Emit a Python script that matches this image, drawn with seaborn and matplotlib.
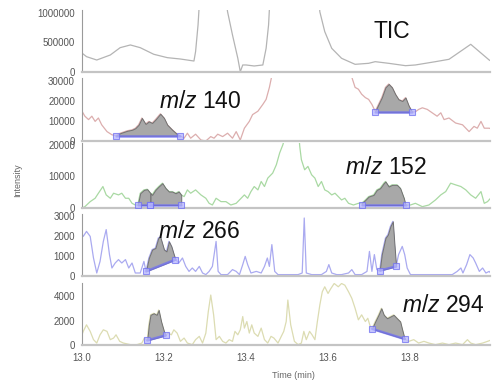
import numpy as np
import matplotlib
matplotlib.use("Agg")
import matplotlib.pyplot as plt
import seaborn as sns
from matplotlib.ticker import AutoMinorLocator, MultipleLocator, StrMethodFormatter

# --- data (time in min, intensity in counts) ---
tic_t = [13.000, 13.011, 13.036, 13.069, 13.093, 13.118, 13.142, 13.175, 13.208, 13.240,
         13.273, 13.277, 13.283, 13.290, 13.322, 13.348, 13.355, 13.367, 13.380, 13.386,
         13.392, 13.400, 13.420, 13.441, 13.449, 13.455, 13.461, 13.519, 13.574, 13.580,
         13.592, 13.609, 13.633, 13.666, 13.699, 13.715, 13.748, 13.789, 13.813, 13.862,
         13.895, 13.928, 13.948, 13.969, 13.993, 14.000]
tic_y = [320000, 260000, 203000, 288000, 412000, 458000, 412000, 300000, 243000, 220000,
         186000, 345000, 797000, 1600000, 3000000, 1400000, 1020000, 627000, 232000, 5000,
         119000, 119000, 102000, 119000, 401000, 797000, 1600000, 3000000, 1600000, 1020000,
         684000, 401000, 232000, 130000, 147000, 175000, 147000, 107000, 119000, 175000,
         215000, 373000, 469000, 345000, 203000, 175000]

mz140_t = [13.000, 13.007, 13.016, 13.024, 13.032, 13.040, 13.048, 13.061, 13.073, 13.083,
           13.093, 13.110, 13.122, 13.130, 13.138, 13.146, 13.155, 13.163, 13.171, 13.179,
           13.191, 13.200, 13.208, 13.220, 13.232, 13.240, 13.249, 13.257, 13.265, 13.277,
           13.290, 13.302, 13.314, 13.322, 13.331, 13.343, 13.355, 13.367, 13.376, 13.386,
           13.396, 13.408, 13.416, 13.429, 13.441, 13.449, 13.457, 13.463, 13.486, 13.654,
           13.658, 13.666, 13.674, 13.682, 13.691, 13.699, 13.707, 13.715, 13.723, 13.731,
           13.740, 13.748, 13.756, 13.764, 13.772, 13.781, 13.789, 13.797, 13.805, 13.813,
           13.821, 13.830, 13.842, 13.854, 13.866, 13.875, 13.883, 13.895, 13.911, 13.928,
           13.944, 13.956, 13.964, 13.973, 13.981, 13.993, 14.000]
mz140_y = [14900, 12400, 10700, 12400, 9800, 11500, 8100, 4700, 3100, 2700,
           3900, 5100, 5600, 6400, 8100, 11500, 8500, 9800, 9000, 10700,
           13600, 11500, 8100, 5600, 3400, 2500, 1400, 3900, 1400, 3400,
           500, 0, 2200, 1400, 3400, 2200, 3900, 1400, 4700, 500,
           6400, 9800, 13200, 14900, 18300, 20800, 26800, 32700, 45000, 45000,
           31900, 26800, 25900, 23400, 21700, 20800, 18300, 14900, 18300, 21700,
           26800, 28500, 26800, 23400, 20800, 20000, 21700, 17500, 14600, 14600,
           15800, 16600, 15800, 14100, 12400, 14100, 10700, 11500, 9000, 8100,
           4700, 7300, 6400, 9800, 6400, 6400, 5900]

mz152_t = [13.000, 13.007, 13.020, 13.032, 13.040, 13.051, 13.059, 13.069, 13.077, 13.089,
           13.097, 13.106, 13.114, 13.122, 13.130, 13.136, 13.142, 13.151, 13.159, 13.167,
           13.171, 13.179, 13.187, 13.196, 13.204, 13.212, 13.220, 13.228, 13.236, 13.242,
           13.249, 13.257, 13.265, 13.277, 13.290, 13.302, 13.310, 13.318, 13.327, 13.339,
           13.351, 13.363, 13.376, 13.388, 13.396, 13.404, 13.412, 13.420, 13.429, 13.437,
           13.445, 13.453, 13.465, 13.474, 13.482, 13.490, 13.502, 13.527, 13.531, 13.535,
           13.543, 13.551, 13.560, 13.568, 13.576, 13.584, 13.592, 13.600, 13.609, 13.617,
           13.625, 13.633, 13.641, 13.650, 13.662, 13.674, 13.682, 13.691, 13.699, 13.711,
           13.719, 13.727, 13.736, 13.740, 13.748, 13.756, 13.768, 13.776, 13.785, 13.789,
           13.801, 13.813, 13.830, 13.846, 13.862, 13.875, 13.887, 13.899, 13.911, 13.924,
           13.936, 13.948, 13.960, 13.973, 13.981, 13.989, 14.000]
mz152_y = [0, 420, 2010, 3070, 4660, 6770, 4130, 3070, 4660, 4130,
           4660, 3070, 3070, 1480, 950, 950, 4660, 5710, 5920, 4660,
           4130, 5710, 6770, 7830, 6240, 5180, 5180, 4660, 5180, 4130,
           3600, 5710, 4660, 5710, 4130, 3070, 1480, 950, 3070, 2010,
           2010, 950, 1480, 3070, 4130, 3070, 5180, 6770, 5710, 8360,
           6770, 9420, 11000, 13650, 17350, 20000, 26000, 26000, 19470, 15240,
           12060, 13120, 10470, 9420, 6770, 8360, 5710, 5180, 4130, 4660,
           3600, 2540, 3070, 1480, 950, 1480, 1480, 2540, 3600, 4130,
           5710, 6240, 7830, 8360, 6770, 7300, 7300, 6240, 3070, 950,
           950, 1480, 420, 950, 2540, 4130, 5180, 7830, 7300, 6770,
           5710, 4130, 3070, 5180, 1480, 2010, 3600]

mz266_t = [13.000, 13.003, 13.011, 13.020, 13.028, 13.036, 13.044, 13.052, 13.059, 13.067,
           13.073, 13.081, 13.089, 13.097, 13.106, 13.114, 13.122, 13.130, 13.142, 13.151,
           13.156, 13.163, 13.171, 13.179, 13.186, 13.191, 13.200, 13.206, 13.212, 13.218,
           13.224, 13.228, 13.236, 13.245, 13.253, 13.261, 13.269, 13.277, 13.286, 13.294,
           13.302, 13.310, 13.318, 13.327, 13.332, 13.339, 13.355, 13.367, 13.376, 13.384,
           13.392, 13.398, 13.404, 13.412, 13.425, 13.437, 13.445, 13.452, 13.457, 13.463,
           13.470, 13.478, 13.494, 13.511, 13.527, 13.537, 13.542, 13.547, 13.560, 13.584,
           13.596, 13.602, 13.609, 13.621, 13.633, 13.650, 13.658, 13.666, 13.682, 13.695,
           13.701, 13.707, 13.713, 13.719, 13.726, 13.731, 13.740, 13.746, 13.752, 13.758,
           13.762, 13.766, 13.772, 13.781, 13.787, 13.793, 13.801, 13.813, 13.838, 13.862,
           13.887, 13.903, 13.915, 13.924, 13.929, 13.938, 13.946, 13.954, 13.960, 13.969,
           13.977, 13.985, 13.993, 14.000]
mz266_y = [2070, 1980, 2230, 1980, 900, 150, 730, 1730, 2320, 1070,
           400, 650, 820, 650, 820, 400, 650, 150, 150, 730,
           230, 900, 1320, 1400, 1900, 1950, 1320, 1230, 1730, 1480,
           1070, 820, 650, 900, 480, 230, 400, 230, 480, 150,
           70, 230, 480, 1730, 230, 70, 70, 320, 230, 70,
           570, 980, 570, 150, 230, 150, 480, 900, 480, 1570,
           230, 70, 70, 70, 70, 150, 2900, 150, 70, 70,
           230, 570, 150, 70, 70, 150, 320, 70, 70, 230,
           1230, 230, 1070, 320, 270, 1070, 1900, 2070, 2480, 2730,
           1570, 480, 1070, 1480, 1070, 400, 70, 70, 70, 70,
           70, 70, 230, 400, 150, 570, 1070, 900, 650, 230,
           400, 150, 230, 70]

mz294_t = [13.000, 13.003, 13.011, 13.020, 13.028, 13.036, 13.044, 13.052, 13.061, 13.069,
           13.077, 13.083, 13.092, 13.101, 13.118, 13.134, 13.146, 13.152, 13.159, 13.163,
           13.167, 13.175, 13.182, 13.187, 13.193, 13.200, 13.204, 13.210, 13.218, 13.224,
           13.232, 13.240, 13.249, 13.257, 13.269, 13.277, 13.286, 13.294, 13.302, 13.308,
           13.314, 13.321, 13.327, 13.335, 13.343, 13.351, 13.359, 13.367, 13.373, 13.380,
           13.386, 13.392, 13.396, 13.402, 13.408, 13.414, 13.420, 13.429, 13.437, 13.445,
           13.453, 13.461, 13.468, 13.478, 13.486, 13.492, 13.498, 13.502, 13.509, 13.518,
           13.527, 13.535, 13.541, 13.547, 13.555, 13.561, 13.568, 13.574, 13.580, 13.586,
           13.592, 13.600, 13.607, 13.615, 13.625, 13.633, 13.641, 13.650, 13.658, 13.666,
           13.674, 13.682, 13.691, 13.697, 13.703, 13.707, 13.715, 13.723, 13.730, 13.736,
           13.744, 13.752, 13.760, 13.768, 13.776, 13.781, 13.787, 13.797, 13.809, 13.821,
           13.834, 13.846, 13.862, 13.879, 13.895, 13.911, 13.928, 13.940, 13.948, 13.960,
           13.977, 13.989, 14.000]
mz294_y = [840, 1120, 1660, 1120, 440, 160, 840, 1250, 1120, 440,
           570, 840, 300, 160, 30, 30, 160, 570, 380, 1660,
           2480, 2610, 2480, 2880, 1930, 1120, 790, 980, 840, 1250,
           980, 300, 570, 160, 30, 440, 710, 160, 980, 2750,
           4110, 2480, 440, 710, 300, 160, 440, 300, 1120, 840,
           1250, 2340, 1390, 1930, 980, 1660, 980, 710, 1390, 440,
           160, 710, 570, 160, 710, 1120, 1930, 3700, 1660, 300,
           30, 160, 1120, 440, 1120, 840, 440, 1930, 3290, 4380,
           4790, 4240, 4650, 5060, 4790, 5060, 4920, 4380, 3840, 3020,
           2070, 2480, 1930, 2200, 1520, 1330, 1930, 2480, 3020, 2480,
           2200, 2340, 2480, 2200, 1930, 1250, 490, 300, 440, 160,
           300, 160, 30, 160, 30, 160, 30, 440, 160, 30,
           160, 300, 440]

# integrated peaks: (start time, end time, baseline at start, baseline at end)
mz140_peaks = [(13.083, 13.240, 2600, 2600), (13.715, 13.805, 14400, 14400)]
mz152_peaks = [(13.136, 13.167, 950, 950), (13.167, 13.242, 950, 950),
               (13.682, 13.789, 950, 950)]
mz266_peaks = [(13.156, 13.228, 230, 820), (13.726, 13.766, 270, 480)]
mz294_peaks = [(13.159, 13.204, 380, 790), (13.707, 13.787, 1330, 490)]

labels = ["TIC", "140", "152", "266", "294"]
yticks = [[0, 500000, 1000000], [0, 10000, 20000, 30000], [0, 10000, 20000],
          [0, 1000, 2000, 3000], [0, 2000, 4000]]

# --- style ---
sns.set_style("white")
plt.rcParams["font.family"] = ["Liberation Sans", "DejaVu Sans"]
plt.rcParams["mathtext.fontset"] = "custom"
plt.rcParams["mathtext.it"] = "Liberation Sans:italic"
plt.rcParams["mathtext.rm"] = "Liberation Sans"

fig = plt.figure(figsize=(4.95, 3.85), dpi=100)

# axes boxes in figure pixels: (top, bottom)
boxes = [(10, 72), (78, 141), (143, 208), (214, 276), (283, 345)]
ylims = [1.05e6, 31500, 20500, 3100, 5100]
colors = ["#b4b4b4", "#dcaeae", "#a9d9a3", "#aaaaf0", "#dcdcb2"]
traces = [(tic_t, tic_y, []), (mz140_t, mz140_y, mz140_peaks),
          (mz152_t, mz152_y, mz152_peaks), (mz266_t, mz266_y, mz266_peaks),
          (mz294_t, mz294_y, mz294_peaks)]

W, H = 495, 385
axes = []
for i, (top, bot) in enumerate(boxes):
    ax = fig.add_axes([82 / W, 1 - bot / H, 408 / W, (bot - top) / H])
    t, y, peaks = traces[i]
    t = np.array(t)
    y = np.array(y, dtype=float)
    sns.lineplot(x=t, y=y, ax=ax, color=colors[i], lw=0.9, estimator=None, sort=False)

    for t0, t1, b0, b1 in peaks:
        m = (t >= t0 - 1e-9) & (t <= t1 + 1e-9)
        base = np.interp(t[m], [t0, t1], [b0, b1])
        ax.fill_between(t[m], base, y[m], facecolor="#a8a8a8", edgecolor="#707070", lw=0.7, zorder=3)
        ax.plot([t0, t1], [b0, b1], color="#6f6ff5", lw=1.8, alpha=0.75, zorder=4,
                marker="s", ms=4.5, mfc="#b8b8ff", mec="#7070f0", mew=0.8)

    ax.set_xlim(13.0, 13.995)
    ax.set_ylim(0, ylims[i])
    ax.set_yticks(yticks[i])
    ax.yaxis.set_minor_locator(AutoMinorLocator(5))
    ax.yaxis.set_major_formatter(StrMethodFormatter("{x:.0f}"))
    ax.set_ylabel("")
    ax.set_xlabel("")
    sns.despine(ax=ax)
    ax.spines["left"].set_color("#9a9a9a")
    ax.spines["left"].set_linewidth(0.8)
    ax.spines["bottom"].set_color("#c4c4c4")
    ax.spines["bottom"].set_linewidth(1.6)
    ax.tick_params(axis="y", which="major", length=3.5, width=0.7, color="#9a9a9a",
                   labelsize=7, labelcolor="#555555", pad=1.5)
    ax.tick_params(axis="y", which="minor", length=2, width=0.5, color="#b0b0b0")
    ax.patch.set_alpha(0)
    axes.append(ax)

for ax in axes[:-1]:
    ax.tick_params(axis="x", which="both", bottom=False, labelbottom=False)

axb = axes[-1]
axb.xaxis.set_major_locator(MultipleLocator(0.2))
axb.xaxis.set_minor_locator(AutoMinorLocator(10))
axb.xaxis.set_major_formatter(StrMethodFormatter("{x:.1f}"))
axb.tick_params(axis="x", which="major", length=3.5, width=0.7, color="#9a9a9a",
                labelsize=7, labelcolor="#555555", pad=2)
axb.tick_params(axis="x", which="minor", length=2, width=0.5, color="#b0b0b0")

# trace labels
fig.text(392 / W, 1 - 31 / H, "TIC", fontsize=16.5, ha="center", va="center", color="#111111")
label_pos = [(159, 102), (345, 168), (158, 231), (402, 305)]
for (px, py), lab in zip(label_pos, labels[1:]):
    fig.text(px / W, 1 - py / H, r"$\mathit{m/z}$ " + lab, fontsize=16.5,
             ha="left", va="center", color="#111111")

fig.text(18 / W, 1 - 180 / H, "Intensity", rotation=90, fontsize=6.5,
         ha="center", va="center", color="#666666")
fig.text(293 / W, 1 - 375 / H, "Time (min)", fontsize=6.5, ha="center", va="center",
         color="#666666")

fig.savefig("out.png", dpi=100)
